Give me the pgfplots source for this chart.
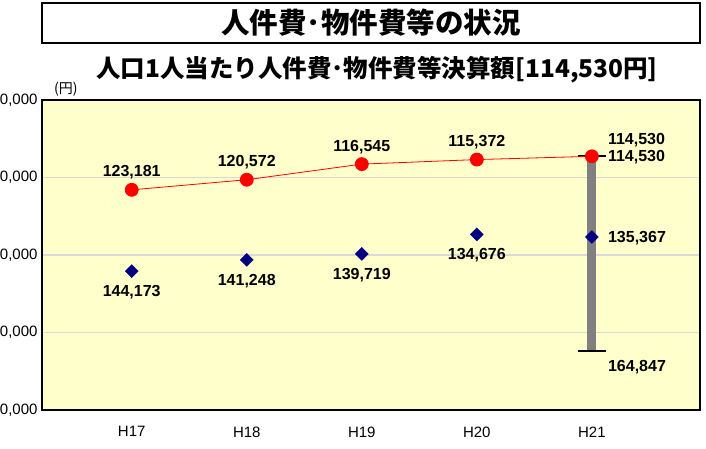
\documentclass[border=0pt]{standalone}
\usepackage{pgfplots}
\pgfplotsset{compat=1.18}
\usepackage{fontspec}
\setmainfont{Liberation Sans}
\newfontfamily\cjk{Noto Sans CJK JP}
\definecolor{plotbg}{HTML}{FFFFCC}
\definecolor{navy}{HTML}{000080}
\definecolor{gridc}{HTML}{D9D9D9}
\begin{document}
\begin{tikzpicture}[x=1pt,y=1pt]
\useasboundingbox (0,0) rectangle (706,448);
\fill[white] (0,0) rectangle (706,448);
\draw[line width=1.3pt] (42,405) rectangle (700,445);
\node[font=\cjk\bfseries\fontsize{28.5}{28.5}\selectfont, inner sep=0] at (371,425) {人件費･物件費等の状況};
\node[font=\cjk\bfseries\fontsize{24.5}{24.5}\selectfont, inner sep=0] at (377,378) {人口1人当たり人件費･物件費等決算額[114,530円]};
\node[font=\cjk\fontsize{14}{14}\selectfont, anchor=south west, inner sep=0] at (54,352) {(円)};
\begin{axis}[
  at={(42pt,38pt)}, anchor=south west,
  width=658pt, height=310pt, scale only axis,
  xmin=-0.78, xmax=4.94,
  ymin=100000, ymax=180000, y dir=reverse,
  axis background/.style={fill=plotbg},
  axis line style={line width=2.2pt},
  xtick={0,1,2,3,4}, xticklabels={H17,H18,H19,H20,H21},
  ytick={100000,120000,140000,160000,180000},
  /pgf/number format/fixed, /pgf/number format/precision=0, /pgf/number format/1000 sep={,},
  /pgf/number format/assume math mode=true,
  scaled y ticks=false,
  ymajorgrids, grid style={line width=1.3pt, color=gridc},
  major tick length=0pt,
  tick label style={font=\fontsize{15}{15}\selectfont},
  yticklabel style={font=\fontsize{15}{15}\selectfont, xshift=-1pt},
  xticklabel style={yshift=-13pt},
  clip=false,
  nodes near coords style={font=\bfseries\fontsize{16}{16}\selectfont, inner sep=0pt, text=black},
]
% range bar
\addplot[color=gray, line width=9pt, forget plot] coordinates {(4,114530) (4,164847)};
\addplot[black, line width=2pt, forget plot] coordinates {(3.88,164847) (4.12,164847)};
\addplot[black, line width=2pt, forget plot] coordinates {(3.88,114530) (4.12,114530)};
% red series
\addplot[red, line width=0.8pt, mark=*, mark size=6.5pt, mark options={fill=red, draw=red},
  point meta=explicit symbolic, nodes near coords,
  nodes near coords style={anchor=south, yshift=10pt}]
  coordinates {(0,123181) [123,181] (1,120572) [120,572] (2,116545) [116,545] (3,115372) [115,372] (4,114530) []};
% blue series
\addplot[only marks, mark=square*, mark size=4.6pt, mark options={rotate=45, fill=navy, draw=navy},
  point meta=explicit symbolic, nodes near coords,
  nodes near coords style={anchor=north, yshift=-14pt}]
  coordinates {(0,144173) [144,173] (1,141248) [141,248] (2,139719) [139,719] (3,134676) [134,676] (4,135367) []};
% H21 labels
\addplot[draw=none, mark=none, point meta=explicit symbolic, nodes near coords,
  nodes near coords style={anchor=west, xshift=16pt, yshift=-1pt}]
  coordinates {(4,114530) [114,530] (4,135367) [135,367]};
\addplot[draw=none, mark=none, point meta=explicit symbolic, nodes near coords,
  nodes near coords style={anchor=west, xshift=16pt, yshift=16pt}]
  coordinates {(4,114530) [114,530]};
\addplot[draw=none, mark=none, point meta=explicit symbolic, nodes near coords,
  nodes near coords style={anchor=west, xshift=16pt, yshift=-16pt}]
  coordinates {(4,164847) [164,847]};
\end{axis}
\end{tikzpicture}
\end{document}
